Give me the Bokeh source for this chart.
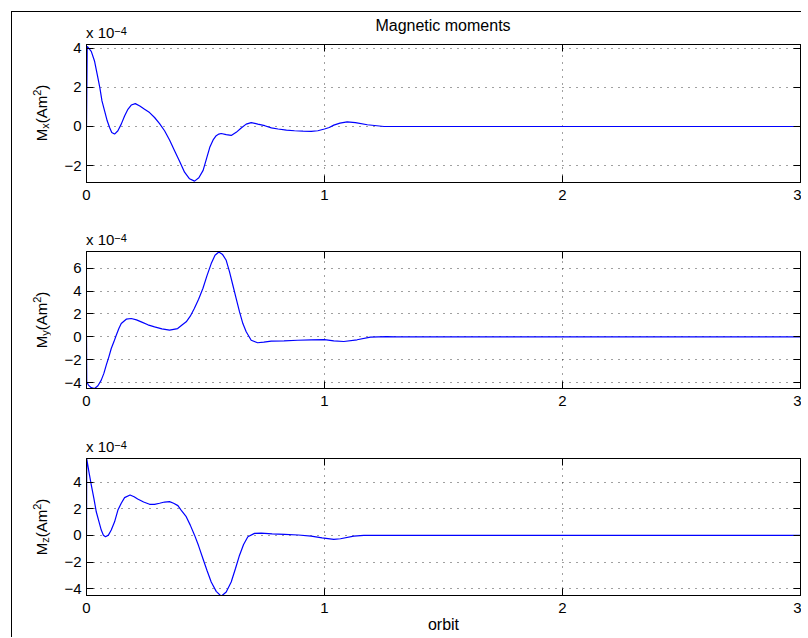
from bokeh.plotting import figure
from bokeh.models import LinearAxis, FixedTicker, Range1d, Div
from bokeh.layouts import column, row
from bokeh.embed import file_html
from bokeh.resources import INLINE

# ---- data (values in units of 1e-4 A m^2), x in orbits ----
x_mx = [0, 0.003, 0.02, 0.034, 0.045, 0.056, 0.065, 0.076, 0.087, 0.097, 0.106, 0.118,
        0.132, 0.146, 0.16, 0.174, 0.188, 0.205, 0.224, 0.244, 0.265, 0.286, 0.307,
        0.328, 0.349, 0.370, 0.391, 0.412, 0.433, 0.454, 0.472, 0.49, 0.504, 0.518,
        0.532, 0.545, 0.556, 0.566, 0.587, 0.608, 0.629, 0.650, 0.671, 0.692, 0.72,
        0.749, 0.777, 0.805, 0.84, 0.874, 0.91, 0.944, 0.972, 1.0, 1.02, 1.039, 1.065,
        1.095, 1.13, 1.18, 1.25, 1.3, 1.5, 2.0, 2.5, 3.0]
mx = [0, 4.1, 3.85, 3.34, 2.67, 1.99, 1.31, 0.8, 0.29, -0.05, -0.31, -0.39,
      -0.22, 0.12, 0.54, 0.88, 1.1, 1.17, 1.05, 0.88, 0.71, 0.46, 0.15,
      -0.22, -0.69, -1.24, -1.78, -2.34, -2.68, -2.80, -2.63, -2.25, -1.66, -1.07,
      -0.69, -0.47, -0.39, -0.36, -0.42, -0.46, -0.3, -0.08, 0.12, 0.2, 0.12,
      0.04, -0.07, -0.13, -0.19, -0.22, -0.24, -0.25, -0.22, -0.13, -0.05, 0.07, 0.17,
      0.24, 0.2, 0.09, 0.0, 0.0, 0.0, 0.0, 0.0, 0.0]

x_my = [0, 0.001, 0.008, 0.02, 0.034, 0.048, 0.062, 0.073, 0.083, 0.094, 0.104, 0.115,
        0.125, 0.136, 0.146, 0.167, 0.188, 0.21, 0.23, 0.258, 0.286, 0.317, 0.349,
        0.383, 0.40, 0.419, 0.436, 0.453, 0.471, 0.489, 0.506, 0.524, 0.54, 0.556,
        0.572, 0.587, 0.601, 0.615, 0.629, 0.643, 0.657, 0.671, 0.692, 0.719, 0.745,
        0.776, 0.83, 0.887, 0.944, 1.0, 1.039, 1.081, 1.137, 1.193, 1.26, 1.3, 1.5,
        2.0, 2.5, 3.0]
my = [0, -3.93, -4.22, -4.45, -4.52, -4.28, -3.79, -3.2, -2.48, -1.75, -1.02, -0.44,
      0.14, 0.72, 1.16, 1.54, 1.6, 1.48, 1.31, 1.05, 0.87, 0.7, 0.58,
      0.72, 1.01, 1.31, 1.8, 2.47, 3.28, 4.22, 5.33, 6.4, 7.13, 7.42,
      7.19, 6.69, 5.68, 4.51, 3.34, 2.18, 1.16, 0.44, -0.3, -0.52, -0.47,
      -0.38, -0.35, -0.3, -0.27, -0.24, -0.35, -0.41, -0.26, -0.03, 0.02, 0.0, 0.0,
      0.0, 0.0, 0.0]

x_mz = [0, 0.001, 0.01, 0.02, 0.031, 0.041, 0.052, 0.062, 0.071, 0.08, 0.092, 0.104,
        0.118, 0.132, 0.146, 0.16, 0.183, 0.2, 0.215, 0.24, 0.265, 0.286, 0.307,
        0.328, 0.349, 0.366, 0.384, 0.40, 0.419, 0.436, 0.454, 0.471, 0.489, 0.506,
        0.524, 0.545, 0.566, 0.587, 0.608, 0.626, 0.643, 0.66, 0.678, 0.706, 0.734,
        0.78, 0.832, 0.89, 0.944, 0.99, 1.039, 1.067, 1.123, 1.165, 1.3, 1.5, 2.0,
        2.5, 3.0]
mz = [0, 5.74, 4.78, 3.78, 2.78, 1.77, 1.05, 0.4, 0.02, -0.1, 0.02, 0.4,
      1.02, 1.9, 2.41, 2.83, 3.03, 2.9, 2.73, 2.5, 2.33, 2.33, 2.41,
      2.5, 2.53, 2.41, 2.23, 1.83, 1.4, 0.77, 0.02, -0.78, -1.73, -2.61,
      -3.49, -4.19, -4.56, -4.24, -3.49, -2.48, -1.48, -0.68, -0.1, 0.15, 0.17,
      0.12, 0.08, 0.03, -0.05, -0.18, -0.3, -0.25, -0.05, 0.0, 0.0, 0.0, 0.0,
      0.0, 0.0]

x_ticks = [0, 1, 2, 3]
yticks_x = [-2, 0, 2, 4]
yticks_y = [-4, -2, 0, 2, 4, 6]
yticks_z = [-4, -2, 0, 2, 4]
yrange_x = (-2.87, 4.2)
yrange_y = (-4.52, 7.46)
yrange_z = (-4.5, 5.76)

title_text = "Magnetic moments"
xlabel_text = "orbit"
scale_text = "x 10"
scale_exp = "\u22124"

FONT = "Liberation Sans"
FS = "15px"
FIG_W = 751
LAB_W = 38


def minus(v):
    return ("\u2212" + str(abs(v))) if v < 0 else str(v)


def style_axis(ax, ticks, labels=True):
    ax.ticker = FixedTicker(ticks=ticks)
    ax.major_tick_in = 7
    ax.major_tick_out = 0
    ax.minor_tick_in = 0
    ax.minor_tick_out = 0
    ax.axis_line_color = "black"
    ax.major_tick_line_color = "black"
    if labels:
        ax.major_label_text_font = FONT
        ax.major_label_text_font_size = FS
        ax.major_label_text_color = "black"
        ax.major_label_overrides = {t: minus(t) for t in ticks}
    else:
        ax.major_label_text_font_size = "0px"
        ax.major_label_standoff = 0
        ax.major_label_overrides = {t: "" for t in ticks}


def panel(xs, ys, yr, yticks, height, top, bottom, xlabel=None):
    p = figure(width=FIG_W, height=height, x_range=Range1d(0, 3), y_range=Range1d(*yr),
               output_backend="svg", toolbar_location=None,
               min_border_left=36, min_border_right=1,
               min_border_top=top, min_border_bottom=bottom)
    p.background_fill_color = "white"
    p.border_fill_color = "white"
    p.outline_line_color = "black"
    p.outline_line_width = 1

    bx = p.below[0]
    ly = p.left[0]
    style_axis(bx, x_ticks)
    bx.major_label_standoff = 7
    style_axis(ly, yticks)
    ly.major_label_standoff = 5

    ra = LinearAxis()
    style_axis(ra, yticks, labels=False)
    p.add_layout(ra, "right")
    ta = LinearAxis()
    style_axis(ta, x_ticks, labels=False)
    p.add_layout(ta, "above")

    p.xgrid.ticker = FixedTicker(ticks=[1, 2])
    p.ygrid.ticker = FixedTicker(ticks=yticks)
    for g in (p.xgrid, p.ygrid):
        g.grid_line_color = "black"
        g.grid_line_alpha = 0.75
        g.grid_line_dash = "1 6"
        g.grid_line_width = 1

    p.line(xs, ys, line_color="#0000ff", line_width=1.2)

    if xlabel:
        bx.axis_label = xlabel
        bx.axis_label_text_font = FONT
        bx.axis_label_text_font_size = "16px"
        bx.axis_label_text_font_style = "normal"
        bx.axis_label_text_color = "black"
        bx.axis_label_standoff = 0
    return p


def ylabel_div(sub, height, cy):
    html = (
        f'<div style="position:relative;width:{LAB_W}px;height:{height}px;">'
        f'<span style="position:absolute;left:29px;top:{cy}px;'
        f'transform:translate(-50%,-50%) rotate(-90deg);white-space:nowrap;'
        f"font-family:'{FONT}';font-size:15px;color:#000;line-height:17px;\">"
        f'M<span style="font-size:11px;vertical-align:-2px;">{sub}</span>'
        f'(Am<span style="font-size:11px;vertical-align:6px;">2</span>)</span></div>'
    )
    return Div(text=html, width=LAB_W, height=height, margin=(0, 0, 0, 0))


def top_div(height, base, title_base=None, title=None):
    total_w = LAB_W + FIG_W
    top = base - 12.7
    html = (
        f'<div style="position:relative;width:{total_w}px;height:{height}px;'
        f"font-family:'{FONT}';font-size:15px;color:#000;line-height:15px;\">"
        f'<span style="position:absolute;left:74px;top:{top:.1f}px;white-space:nowrap;">'
        f'{scale_text}<span style="font-size:11px;vertical-align:3px;">{scale_exp}</span></span>'
    )
    if title:
        ttop = title_base - 13.5
        html += (f'<span style="position:absolute;left:431px;top:{ttop:.1f}px;'
                 f'font-size:16px;line-height:16px;'
                 f'transform:translateX(-50%);white-space:nowrap;">{title}</span>')
    html += '</div>'
    return Div(text=html, width=total_w, height=height, margin=(0, 0, 0, 0))


# vertical plan (page px): panel frames at 44-182, 251-388, 458-595
p1 = panel(x_mx, mx, yrange_x, yticks_x, 191, 5, 48)
p2 = panel(x_my, my, yrange_y, yticks_y, 180, 1, 42)
p3 = panel(x_mz, mz, yrange_z, yticks_z, 180, 1, 42, xlabel=xlabel_text)

blocks = [
    top_div(27, 24.7, title_base=19, title=title_text),
    row(ylabel_div("x", 191, 74), p1, spacing=0, margin=(0, 0, 0, 0)),
    top_div(20, 13.3),
    row(ylabel_div("y", 180, 69.5), p2, spacing=0, margin=(0, 0, 0, 0)),
    top_div(27, 20.7),
    row(ylabel_div("z", 180, 69.5), p3, spacing=0, margin=(0, 0, 0, 0)),
]

layout = column(*blocks, spacing=0, margin=(11, 0, 0, 11),
                styles={"border-left": "1px solid black", "border-top": "1px solid black"})

open("out.html", "w").write(file_html(layout, INLINE))
